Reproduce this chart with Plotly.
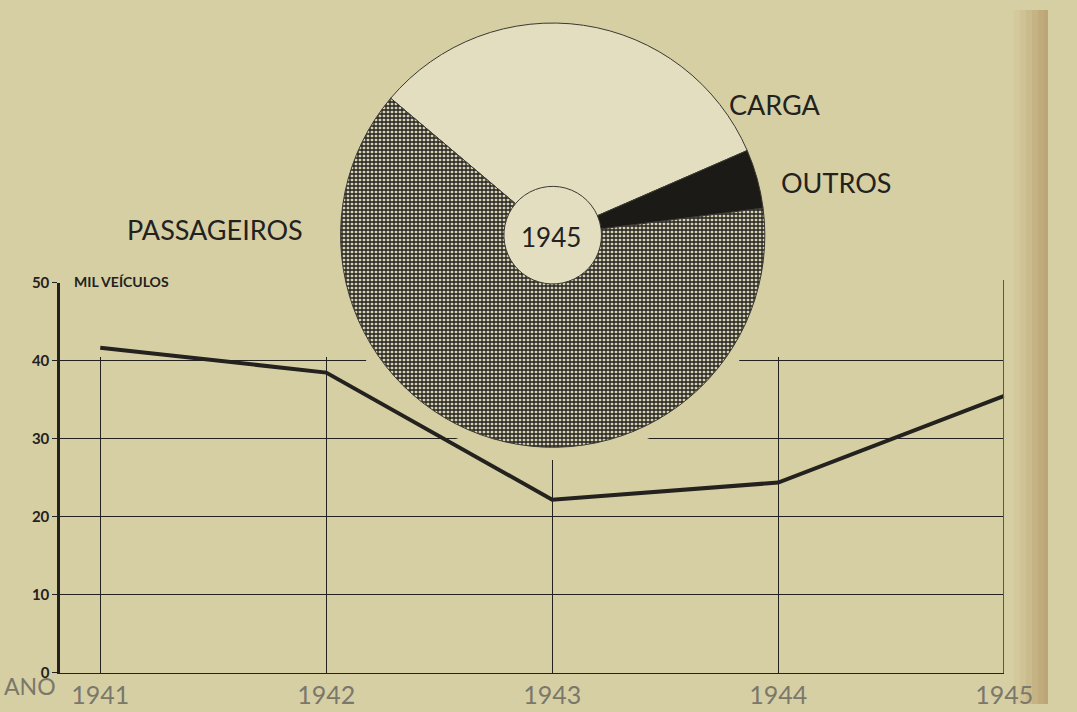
import plotly.graph_objects as go

# dados: frota de veiculos (mil) e composicao de 1945
anos = [1941, 1942, 1943, 1944, 1945]
veiculos = [41.7, 38.5, 22.2, 24.4, 35.5]
setores = ['CARGA', 'OUTROS', 'PASSAGEIROS']
participacao = [32.3, 4.5, 63.2]
y_ticks = [0, 10, 20, 30, 40, 50]
grade_x = [1941, 1942, 1943, 1944]
grade_y = [10, 20, 30, 40]

W, H = 1077, 712
fundo = '#d6cfa3'
tinta = '#23221e'
fonte = 'Lato'

def px(p):
    return p / W

def py(p):
    return 1 - p / H

# escala do eixo x: 1941 em 103 px, 1945 em 1032 px, eixo em 62 px
x_dom = [px(62), px(1032)]
x_ini = 1941 - (103 - 62) / ((1032 - 103) / 4)
x_range = [x_ini, 1945]

fig = go.Figure()

# traco invisivel so para o subplot da grade existir
fig.add_trace(go.Scatter(x=anos, y=grade_y + [0], mode='markers', xaxis='x', yaxis='y',
                         marker=dict(opacity=0), hoverinfo='skip', showlegend=False))

# linha da frota
fig.add_trace(go.Scatter(x=anos, y=veiculos, mode='lines', xaxis='x2', yaxis='y2',
                         line=dict(color=tinta, width=4), hoverinfo='skip', showlegend=False))

# subplot estreito so para a borda direita (1945)
fig.add_trace(go.Scatter(x=[anos[-1]], y=[0], mode='markers', xaxis='x3', yaxis='y3',
                         marker=dict(opacity=0), hoverinfo='skip', showlegend=False))

# halo claro em volta do grafico de setores (esconde a grade)
fig.add_trace(go.Pie(values=[1], labels=['halo'], marker=dict(colors=[fundo], line=dict(width=0)),
                     textinfo='none', hoverinfo='skip', showlegend=False, sort=False,
                     domain=dict(x=[px(337), px(799)], y=[py(462), 1.0])))
# miolo claro
fig.add_trace(go.Pie(values=[1], labels=['miolo'], marker=dict(colors=['#e4dec0'], line=dict(width=0)),
                     textinfo='none', hoverinfo='skip', showlegend=False, sort=False,
                     domain=dict(x=[px(516), px(620)], y=[py(283), py(179)])))
# setores 1945
fig.add_trace(go.Pie(values=participacao, labels=setores, sort=False, direction='clockwise',
                     rotation=-49.8, hole=0.23, textinfo='none', hoverinfo='label+percent',
                     showlegend=False,
                     marker=dict(colors=['#e4dec0', '#1b1a17', '#d9d3b6'],
                                 line=dict(color='#3a3832', width=1),
                                 pattern=dict(shape=['', '', '+'], fgcolor='#22211d',
                                              bgcolor='#d8d2b4', size=4, solidity=0.55)),
                     domain=dict(x=[px(350), px(786)], y=[py(449), py(13)])))

# faixa escura da borda direita do papel
tons = ['#d3c99c', '#cfc294', '#cabb8c', '#c5b383', '#c0ab7b', '#bca576']
for i, c in enumerate(tons):
    fig.add_shape(type='rect', xref='paper', yref='paper', layer='below', line=dict(width=0),
                  fillcolor=c, x0=px(1042 + i * 6), x1=px(1048 + i * 6) if i < len(tons) - 1 else 1,
                  y0=0, y1=1)

rotulos = [
    ('MIL VEÍCULOS', 74, 279, 14, 'left', 'bold', tinta),
    ('ANO', 31, 694, 23, 'center', 'normal', '#7a776b'),
    ('CARGA', 796, 97, 27, 'center', 'normal', tinta),
    ('OUTROS', 859, 177, 27, 'center', 'normal', tinta),
    ('PASSAGEIROS', 221, 225, 27, 'center', 'normal', tinta),
    ('1945', 566, 233, 26, 'center', 'normal', tinta),
]
for txt, x, y, s, xa, wgt, cor in rotulos:
    fig.add_annotation(text=txt, x=px(x), y=py(y), xref='paper', yref='paper', showarrow=False,
                       xanchor=xa, yanchor='middle',
                       font=dict(family=fonte, size=s, color=cor, weight=wgt))

fig.update_layout(
    width=W, height=H, margin=dict(l=0, r=0, t=0, b=0),
    paper_bgcolor=fundo, plot_bgcolor='rgba(0,0,0,0)',
    # grade (vai so ate 40)
    xaxis=dict(domain=x_dom, range=x_range, anchor='y', tickvals=grade_x, showticklabels=False,
               showgrid=True, gridcolor=tinta, gridwidth=1.2, zeroline=False, showline=False, ticks=''),
    yaxis=dict(domain=[py(680), py(356)], range=[0, 40.5], anchor='x', tickvals=grade_y,
               showticklabels=False, showgrid=True, gridcolor=tinta, gridwidth=1.2,
               zeroline=False, showline=False, ticks=''),
    # eixos com os rotulos
    xaxis2=dict(domain=x_dom, range=x_range, anchor='y2', tickvals=anos,
                ticktext=[str(a) for a in anos], showgrid=False, zeroline=False,
                showline=True, linecolor=tinta, linewidth=1.6, ticks='',
                tickfont=dict(family=fonte, size=25, color='#7a776b')),
    yaxis2=dict(domain=[py(680), py(280)], range=[0, 50], anchor='x2', tickvals=y_ticks,
                ticktext=[str(v) for v in y_ticks], showgrid=False, zeroline=False,
                showline=True, linecolor=tinta, linewidth=3, ticks='outside', ticklen=5,
                tickcolor=tinta, tickfont=dict(family=fonte, size=15, color=tinta, weight='bold')),
    # borda direita fina
    xaxis3=dict(domain=[px(1032), px(1034)], range=[1945, 1946], anchor='y3', visible=False),
    yaxis3=dict(domain=[py(680), py(277)], range=[0, 50], anchor='x3', side='left',
                showline=True, linecolor='#5a584e', linewidth=1.2, showgrid=False, zeroline=False,
                showticklabels=False, ticks=''),
)

# pagina do tamanho exato da figura, sem nada sobrando fora
ajuste = (
    "var h=document.documentElement,b=document.body;"
    "h.style.overflow='hidden';h.style.width='1077px';h.style.height='712px';"
    "b.style.margin='0';b.style.padding='0';b.style.overflow='hidden';b.style.position='relative';"
    "b.style.width='1077px';b.style.height='712px';"
    "var g=document.querySelector('.plotly-graph-div');if(g){g.style.overflow='hidden';}"
)
fig.write_html('out.html', config={'displayModeBar': False, 'staticPlot': True}, post_script=ajuste)
